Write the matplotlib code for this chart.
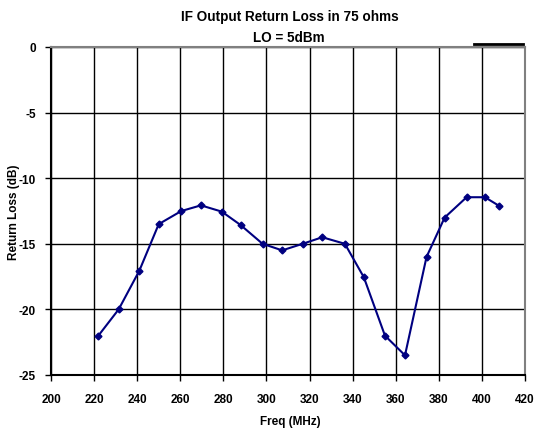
import matplotlib
matplotlib.use("Agg")
import matplotlib.pyplot as plt
from matplotlib.lines import Line2D

freq = [222, 231.4, 241, 250, 260.5, 269.6, 279.3, 288, 298.2, 307.3, 316.8,
        325.9, 336.4, 345.2, 355, 364.3, 374.3, 382.7, 392.9, 401.4, 407.9]
rl = [-22.0, -20.0, -17.05, -13.5, -12.5, -12.07, -12.55, -13.57, -15.0, -15.5, -15.0,
      -14.5, -15.0, -17.55, -22.0, -23.5, -16.0, -13.0, -11.45, -11.45, -12.1]
xticks = list(range(200, 421, 20))
yticks = [0, -5, -10, -15, -20, -25]

plt.rcParams['font.family'] = ['Liberation Sans', 'DejaVu Sans']
plt.rcParams['font.weight'] = 'bold'
plt.rcParams['axes.unicode_minus'] = False

fig = plt.figure(figsize=(5.38, 4.31), dpi=100)
ax = fig.add_axes([51/538, 1-376/431, 474/538, 328/431])

ax.plot(freq, rl, color='#000080', lw=1.5, marker='D', ms=3.5, zorder=3)

ax.set_xlim(200, 420)
ax.set_ylim(-25, 0)
ax.set_xticks(xticks)
ax.set_yticks(yticks)
ax.set_yticklabels([str(v) for v in yticks])
ax.grid(True, color='black', lw=1)
ax.tick_params(labelsize=8.5, length=4, width=1, colors='black')
ax.tick_params(axis='x', pad=9)
ax.tick_params(axis='y', pad=7)
for side in ['left', 'bottom']:
    ax.spines[side].set_color('black')
    ax.spines[side].set_linewidth(1.5)
for side in ['top', 'right']:
    ax.spines[side].set_color('#808080')
    ax.spines[side].set_linewidth(1.5)

fig.text(290/538, 1-422/431, 'Freq (MHz)', ha='center', va='center',
         fontsize=8.5, fontweight='bold')
fig.text(14/538, 1-212/431, 'Return Loss (dB)', ha='center', va='center',
         rotation=90, fontsize=8.5, fontweight='bold')

fig.text(290/538, 1-17/431, 'IF Output Return Loss in 75 ohms', ha='center', va='center',
         fontsize=9.75, fontweight='bold')
fig.text(289/538, 1-38/431, 'LO = 5dBm', ha='center', va='center',
         fontsize=9.75, fontweight='bold')

# short black bar at top right
fig.add_artist(Line2D([474/538, 523/538], [1-45/431, 1-45/431], color='black', lw=2))

fig.savefig('out.png', dpi=100)
